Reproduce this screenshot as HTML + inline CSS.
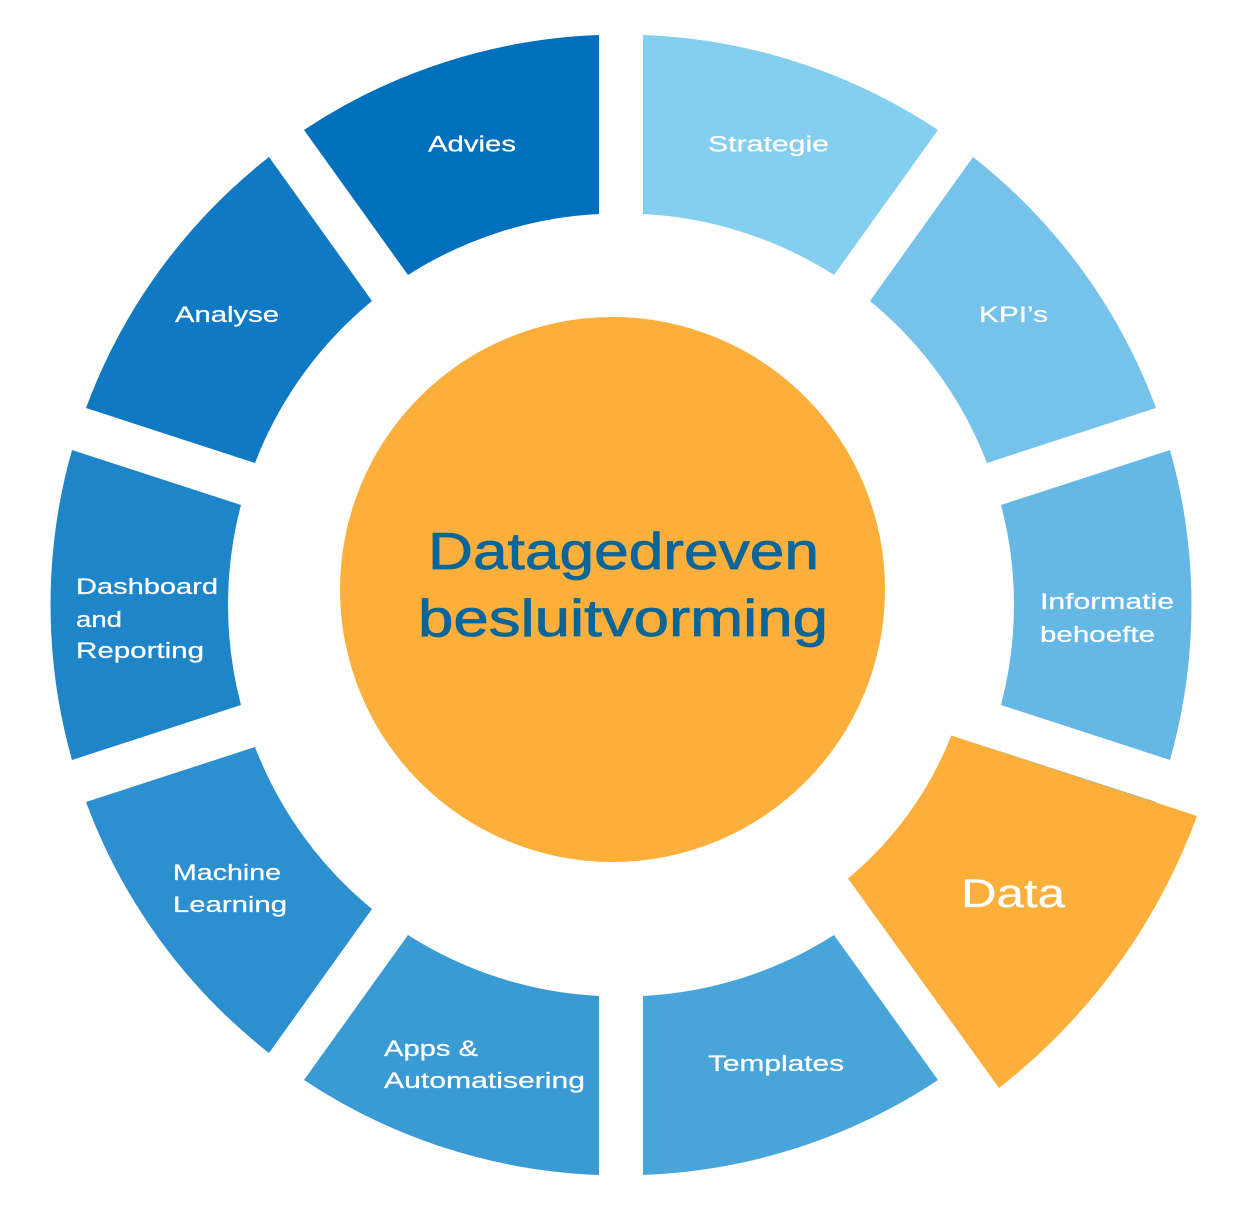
<!DOCTYPE html>
<html>
<head>
<meta charset="utf-8">
<style>
html,body{margin:0;padding:0;background:#fff;width:1250px;height:1219px;overflow:hidden}
svg{display:block}
text{font-family:"Liberation Sans",sans-serif;fill:#fff;font-size:22px;stroke:#fff;stroke-width:.25px}
</style>
</head>
<body>
<svg width="1250" height="1219" viewBox="0 0 1250 1219" xmlns="http://www.w3.org/2000/svg">
<rect width="1250" height="1219" fill="#fff"/>
<!-- segments -->
<path fill="#84ceef" d="M643 35A570 570 0 0 1 938 130L834 275A391.5 391.5 0 0 0 643 214Z"/>
<path fill="#75c3ea" d="M973 157A570 570 0 0 1 1156 408L987 463A391.5 391.5 0 0 0 870 301Z"/>
<path fill="#66b8e4" d="M1170 450A570 570 0 0 1 1170 760L1001 705A391.5 391.5 0 0 0 1001 505Z"/>
<path fill="#57aedf" d="M1156 802A570 570 0 0 1 977 1051L870 909A391.5 391.5 0 0 0 987 747Z"/>
<path fill="#48a5da" d="M938 1080A570 570 0 0 1 643 1175L643 996A391.5 391.5 0 0 0 834 935Z"/>
<path fill="#3a9ad4" d="M599 1175A570 570 0 0 1 304 1080L408 935A391.5 391.5 0 0 0 599 996Z"/>
<path fill="#2c8fcf" d="M269 1053A570 570 0 0 1 86 802L255 747A391.5 391.5 0 0 0 372 909Z"/>
<path fill="#1e85c9" d="M72 760A570 570 0 0 1 72 450L241 505A391.5 391.5 0 0 0 241 705Z"/>
<path fill="#0f7ac3" d="M86 408A570 570 0 0 1 269 157L372 301A391.5 391.5 0 0 0 255 463Z"/>
<path fill="#0070bd" d="M304 130A570 570 0 0 1 599 35L599 214A391.5 391.5 0 0 0 408 275Z"/>
<!-- highlighted Data segment -->
<path fill="#fcb03b" d="M1197 816A613 613 0 0 1 999 1088L848 878.5A355 355 0 0 0 951.3 735.5Z"/>
<!-- center -->
<circle cx="612.5" cy="589.5" r="272.5" fill="#fcb03b"/>
<text x="428" y="569" style="font-size:52px;fill:#0a6599;stroke:#0a6599;stroke-width:.8px" textLength="391" lengthAdjust="spacingAndGlyphs">Datagedreven</text>
<text x="418" y="636" style="font-size:52px;fill:#0a6599;stroke:#0a6599;stroke-width:.8px" textLength="410" lengthAdjust="spacingAndGlyphs">besluitvorming</text>
<!-- labels -->
<text x="708" y="151.5" textLength="121" lengthAdjust="spacingAndGlyphs">Strategie</text>
<text x="979" y="322" textLength="69" lengthAdjust="spacingAndGlyphs">KPI’s</text>
<text x="1040" y="609" textLength="134" lengthAdjust="spacingAndGlyphs">Informatie</text>
<text x="1040" y="642" textLength="115" lengthAdjust="spacingAndGlyphs">behoefte</text>
<text x="961" y="907" style="font-size:40px" textLength="104" lengthAdjust="spacingAndGlyphs">Data</text>
<text x="708" y="1071" textLength="136" lengthAdjust="spacingAndGlyphs">Templates</text>
<text x="384" y="1056" textLength="94" lengthAdjust="spacingAndGlyphs">Apps &amp;</text>
<text x="384" y="1088" textLength="201" lengthAdjust="spacingAndGlyphs">Automatisering</text>
<text x="173" y="880" textLength="108" lengthAdjust="spacingAndGlyphs">Machine</text>
<text x="173" y="912" textLength="114" lengthAdjust="spacingAndGlyphs">Learning</text>
<text x="76" y="594" textLength="142" lengthAdjust="spacingAndGlyphs">Dashboard</text>
<text x="76" y="627" textLength="46" lengthAdjust="spacingAndGlyphs">and</text>
<text x="76" y="658" textLength="128" lengthAdjust="spacingAndGlyphs">Reporting</text>
<text x="175" y="322" textLength="104" lengthAdjust="spacingAndGlyphs">Analyse</text>
<text x="428" y="151.5" textLength="88" lengthAdjust="spacingAndGlyphs">Advies</text>
</svg>
</body>
</html>
